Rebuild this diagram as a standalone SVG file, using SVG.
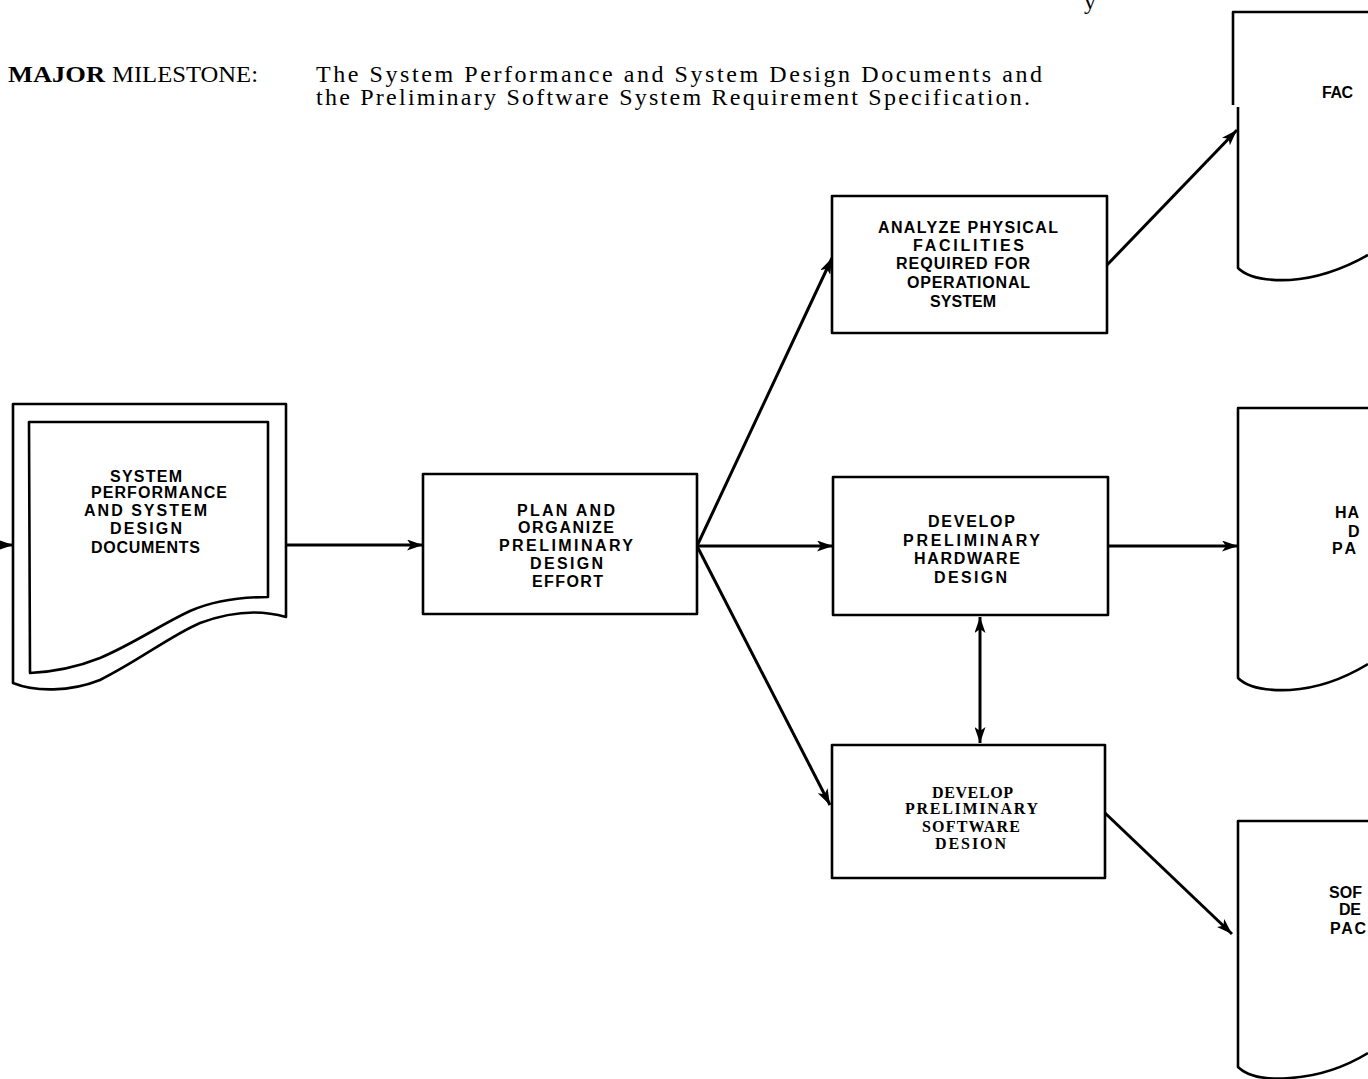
<svg xmlns="http://www.w3.org/2000/svg" width="1368" height="1079" viewBox="0 0 1368 1079">
  <style>
    .box { fill: #fff; stroke: #000; stroke-width: 2.6; stroke-linejoin: round; }
    .doc { fill: none; stroke: #000; stroke-width: 2.6; stroke-linejoin: round; }
    .lbl { font-family: "Liberation Sans", Arial, sans-serif; font-weight: bold; font-size: 16px; fill: #000; }
    .lbls { font-family: "Liberation Serif", "Times New Roman", serif; font-weight: bold; font-size: 16px; fill: #000; }
    .head { font-family: "Liberation Serif", "Times New Roman", serif; font-size: 24px; fill: #000; }
    .conn { fill: none; stroke: #000; stroke-width: 3; }
  </style>
  <defs>
    <marker id="arrow" viewBox="0 0 16 11" refX="16" refY="5.5" markerWidth="16" markerHeight="11" markerUnits="userSpaceOnUse" orient="auto-start-reverse">
      <path d="M0,0 L16,5.5 L0,11 L4,5.5 Z" fill="#000"/>
    </marker>
  </defs>

  <rect width="1368" height="1079" fill="#fff"/>

  <!-- heading -->
  <g id="heading">
    <text class="head" x="1084" y="9">y</text>
    <text class="head" x="8" y="82" font-weight="bold" textLength="97" lengthAdjust="spacingAndGlyphs">MAJOR</text>
    <text class="head" x="112" y="82" textLength="146" lengthAdjust="spacingAndGlyphs">MILESTONE:</text>
    <text class="head" x="316" y="82" textLength="726" lengthAdjust="spacing">The System Performance and System Design Documents and</text>
    <text class="head" x="316" y="105" textLength="714" lengthAdjust="spacing">the Preliminary Software System Requirement Specification.</text>
  </g>

  <!-- connectors -->
  <g id="connectors">
    <line class="conn" x1="0" y1="545" x2="13" y2="545" marker-end="url(#arrow)"/>
    <line class="conn" x1="287" y1="545" x2="423" y2="545" marker-end="url(#arrow)"/>
    <line class="conn" x1="697" y1="546" x2="832" y2="258" marker-end="url(#arrow)"/>
    <line class="conn" x1="697" y1="546" x2="833" y2="546" marker-end="url(#arrow)"/>
    <line class="conn" x1="697" y1="546" x2="830" y2="805" marker-end="url(#arrow)"/>
    <line class="conn" x1="1107" y1="265" x2="1237" y2="130" marker-end="url(#arrow)"/>
    <line class="conn" x1="1108" y1="546" x2="1238" y2="546" marker-end="url(#arrow)"/>
    <line class="conn" x1="1105" y1="813" x2="1232" y2="934" marker-end="url(#arrow)"/>
    <line class="conn" x1="980" y1="617" x2="980" y2="743" marker-start="url(#arrow)" marker-end="url(#arrow)"/>
  </g>

  <!-- source document -->
  <g id="doc-system-design">
    <path class="doc" d="M13,404 L286,404 L286,617 C262,610 235,610 200,623 C170,636 140,660 100,680 C70,692 35,692 13,683 Z"/>
    <path class="doc" d="M29,422 L268,422 L268,597 C240,597 215,600 190,611 C160,625 135,643 100,658 C75,668 50,672 30,673 Z"/>
    <text class="lbl" y="482" x="110" textLength="72" lengthAdjust="spacing">SYSTEM</text>
    <text class="lbl" y="498" x="91" textLength="136" lengthAdjust="spacing">PERFORMANCE</text>
    <text class="lbl" y="516" x="84" textLength="123" lengthAdjust="spacing">AND SYSTEM</text>
    <text class="lbl" y="534" x="110" textLength="72" lengthAdjust="spacing">DESIGN</text>
    <text class="lbl" y="553" x="91" textLength="109" lengthAdjust="spacing">DOCUMENTS</text>
  </g>

  <g id="plan-organize">
    <rect class="box" x="423" y="474" width="274" height="140"/>
    <text class="lbl" y="516" x="517" textLength="98" lengthAdjust="spacing">PLAN AND</text>
    <text class="lbl" y="533" x="518" textLength="96" lengthAdjust="spacing">ORGANIZE</text>
    <text class="lbl" y="551" x="499" textLength="134" lengthAdjust="spacing">PRELIMINARY</text>
    <text class="lbl" y="569" x="530" textLength="73" lengthAdjust="spacing">DESIGN</text>
    <text class="lbl" y="587" x="532" textLength="71" lengthAdjust="spacing">EFFORT</text>
  </g>

  <g id="analyze-facilities">
    <rect class="box" x="832" y="196" width="275" height="137"/>
    <text class="lbl" y="233" x="878" textLength="180" lengthAdjust="spacing">ANALYZE PHYSICAL</text>
    <text class="lbl" y="251" x="913" textLength="111" lengthAdjust="spacing">FACILITIES</text>
    <text class="lbl" y="269" x="896" textLength="134" lengthAdjust="spacing">REQUIRED FOR</text>
    <text class="lbl" y="288" x="907" textLength="123" lengthAdjust="spacing">OPERATIONAL</text>
    <text class="lbl" y="307" x="930" textLength="66" lengthAdjust="spacing">SYSTEM</text>
  </g>

  <g id="hardware-design">
    <rect class="box" x="833" y="477" width="275" height="138"/>
    <text class="lbl" y="527" x="928" textLength="87" lengthAdjust="spacing">DEVELOP</text>
    <text class="lbl" y="546" x="903" textLength="137" lengthAdjust="spacing">PRELIMINARY</text>
    <text class="lbl" y="564" x="914" textLength="106" lengthAdjust="spacing">HARDWARE</text>
    <text class="lbl" y="583" x="934" textLength="73" lengthAdjust="spacing">DESIGN</text>
  </g>

  <g id="software-design">
    <rect class="box" x="832" y="745" width="273" height="133"/>
    <text class="lbls" y="798" x="932" textLength="81" lengthAdjust="spacing">DEVELOP</text>
    <text class="lbls" y="814" x="905" textLength="133" lengthAdjust="spacing">PRELIMINARY</text>
    <text class="lbls" y="832" x="922" textLength="98" lengthAdjust="spacing">SOFTWARE</text>
    <text class="lbls" y="849" x="935" textLength="71" lengthAdjust="spacing">DESION</text>
  </g>

  <!-- output documents at the right edge -->
  <g id="doc-facilities">
    <path class="doc" d="M1368,12 L1233,12 L1233,105"/>
    <path class="doc" d="M1238,107 L1238,268 C1248,278 1265,281 1290,280 C1320,278 1345,268 1368,255"/>
    <text class="lbl" y="98" x="1322" textLength="31" lengthAdjust="spacing">FAC</text>
  </g>

  <g id="doc-hardware">
    <path class="doc" d="M1368,408 L1238,408 L1238,678 C1248,688 1265,691 1290,690 C1320,688 1345,678 1368,664"/>
    <text class="lbl" y="518" x="1335" textLength="24" lengthAdjust="spacing">HA</text>
    <text class="lbl" y="537" x="1348">D</text>
    <text class="lbl" y="554" x="1332" textLength="24" lengthAdjust="spacing">PA</text>
  </g>

  <g id="doc-software">
    <path class="doc" d="M1368,821 L1238,821 L1238,1067 C1248,1077 1265,1080 1290,1078 C1320,1076 1345,1067 1368,1053"/>
    <text class="lbl" y="898" x="1329" textLength="33" lengthAdjust="spacing">SOF</text>
    <text class="lbl" y="915" x="1339" textLength="22" lengthAdjust="spacing">DE</text>
    <text class="lbl" y="934" x="1330" textLength="36" lengthAdjust="spacing">PAC</text>
  </g>
</svg>
